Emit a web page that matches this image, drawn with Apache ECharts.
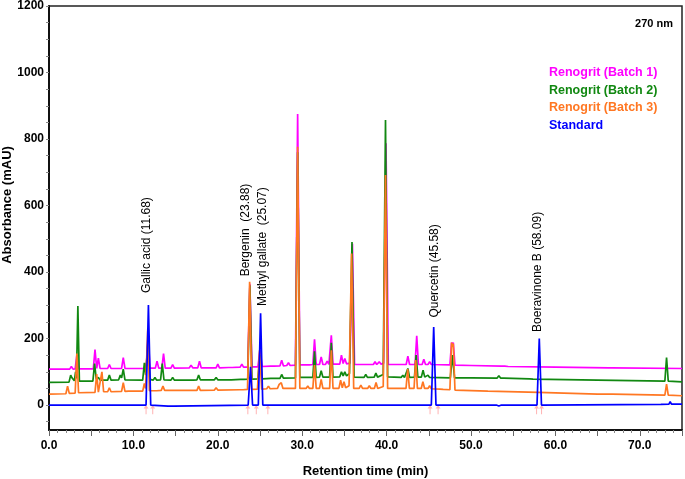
<!DOCTYPE html>
<html>
<head>
<meta charset="utf-8">
<script src="https://cdn.jsdelivr.net/npm/echarts@6/dist/echarts.min.js"></script>
<style>
html,body{margin:0;padding:0;background:#fff;}
#chart{width:685px;height:479px;}
</style>
</head>
<body>
<div id="chart"></div>
<script>
// ---- Data (retention time in min, absorbance in mAU) ----
const seriesNames = ['Renogrit (Batch 1)', 'Renogrit (Batch 2)', 'Renogrit (Batch 3)', 'Standard'];

const batch1 = [
[0,108],[2.45,108],[2.65,116],[2.85,108],[3.1,109],[3.3,150],[3.5,109],
[5.25,109],[5.45,167],[5.65,110],[5.85,141],[6.05,110],
[6.95,110],[7.15,122],[7.35,110],
[8.6,110],[8.8,143],[9.0,110],
[11.25,110],[11.45,125],[11.55,118],[11.75,215],[11.95,111],
[12.6,111],[12.8,132],[13.0,111],
[13.37,111],[13.57,155],[13.77,111],
[14.45,111],[14.65,122],[14.85,111],
[16.63,112],[16.83,120],[17.03,112],
[17.63,112],[17.83,132],[18.03,112],
[19.8,112],[20.0,123],[20.2,112],
[21.3,113],[21.5,117],[21.7,113],
[22.65,114],[22.85,123],[23.05,114],
[23.55,114],[23.8,365],[24.05,115],
[24.75,115],[25.0,165],[25.25,116],
[26.27,117],[26.47,122],[26.67,117],
[27.37,118],[27.57,135],[27.77,118],
[28.17,119],[28.37,127],[28.57,119],
[29.2,120],[29.46,875],[29.72,121],
[30.46,121],[30.66,126],[30.86,121],
[31.26,122],[31.46,198],[31.66,122],
[32.05,122],[32.25,145],[32.45,122],
[32.76,122],[32.96,132],[33.16,122],
[33.25,122],[33.45,210],[33.65,123],
[34.45,123],[34.65,150],[34.85,125],[35.05,140],[35.25,124],
[35.65,126],[35.95,485],[36.2,122],
[36.65,122],[36.85,128],[37.05,122],
[37.33,122],[37.53,128],[37.73,122],
[38.43,122],[38.63,130],[38.83,122],[39.13,130],[39.35,123],
[39.65,126],[39.93,787],[40.2,122],
[41.62,122],[41.82,128],[42.02,122],
[42.32,122],[42.52,147],[42.72,122],
[43.37,122],[43.57,208],[43.77,122],
[44.21,122],[44.41,138],[44.61,122],
[44.9,122],[45.1,130],[45.3,122],
[47.5,121],[47.7,188],[47.8,178],[47.9,188],[48.1,120],
[50,119],[53.6,117],[53.8,122],[54.0,117],[54.2,119],[54.4,116],
[60,114],[66.32,112],[66.52,115],[66.72,112],[75,110]
];

const batch2 = [
[0,68],[2.37,69],[2.57,90],[2.72,82],[2.87,88],[3.0,73],[3.15,100],[3.25,80],[3.42,298],[3.6,72],
[5.2,72],[5.4,125],[5.6,78],[5.85,83],[6.05,75],
[6.95,75],[7.15,90],[7.35,75],
[8.25,76],[8.45,90],[8.6,82],[8.8,108],[9.0,76],
[11.1,75],[11.3,127],[11.45,90],[11.75,200],[11.95,77],
[12.35,75],[12.55,83],[12.75,75],
[13.22,76],[13.42,125],[13.62,76],
[14.45,75],[14.65,83],[14.85,75],
[16.73,75],[16.93,80],[17.13,75],
[17.53,76],[17.73,90],[17.93,76],
[19.6,76],[19.8,83],[20.0,76],
[21.2,76],[21.4,80],[21.6,76],
[22.7,77],[22.9,82],[23.1,77],
[23.55,78],[23.8,360],[24.05,78],
[24.75,79],[25.0,150],[25.25,79],
[26.27,80],[26.47,84],[26.67,80],
[27.37,80],[27.57,92],[27.77,81],
[29.2,82],[29.46,760],[29.72,83],
[30.55,83],[30.75,88],[30.95,83],
[31.26,83],[31.46,162],[31.66,83],
[32.05,84],[32.25,103],[32.45,84],
[33.25,84],[33.45,187],[33.65,84],
[34.45,85],[34.65,100],[34.85,88],[35.05,100],[35.25,88],
[35.6,95],[35.9,490],[36.15,84],
[37.33,83],[37.53,92],[37.73,83],
[38.53,84],[38.73,96],[38.93,84],
[39.6,92],[39.87,857],[40.12,85],
[41.72,83],[41.92,90],[42.12,83],
[42.32,83],[42.52,110],[42.72,83],
[43.3,84],[43.5,150],[43.7,84],
[44.12,84],[44.32,105],[44.52,84],
[44.7,84],[44.9,90],[45.1,83],
[47.55,82],[47.8,150],[48.05,82],
[50,82],[53.1,81],[53.3,88],[53.5,81],[53.7,86],[53.9,81],
[56.95,79],[57.15,84],[57.35,78],
[65,75],[72.97,72],[73.17,143],[73.37,72],[75,70]
];

const batch3 = [
[0,33],[2.0,34],[2.2,57],[2.4,35],[3.1,36],[3.3,155],[3.5,37],
[5.45,38],[5.65,93],[5.85,39],[6.07,39],[6.27,100],[6.47,40],
[6.95,40],[7.15,52],[7.35,40],
[8.6,41],[8.8,67],[9.0,41],
[9.45,42],[9.65,48],[9.85,42],
[11.1,42],[11.3,65],[11.45,50],[11.7,228],[11.9,43],
[12.35,43],[12.55,49],[12.75,43],
[13.3,44],[13.5,57],[13.7,44],
[14.4,44],[14.6,49],[14.8,44],
[16.73,44],[16.93,47],[17.13,44],
[17.53,44],[17.73,57],[17.93,44],
[19.6,45],[19.8,52],[20.0,45],
[22.6,46],[22.8,50],[23.0,46],
[23.52,47],[23.77,371],[24.02,47],
[24.7,48],[24.95,165],[25.2,48],
[25.8,49],[26.0,57],[26.2,49],
[27.07,50],[27.27,62],[27.4,56],[27.52,67],[27.72,50],
[29.2,50],[29.46,777],[29.72,50],
[30.46,50],[30.66,57],[30.86,50],
[31.26,50],[31.46,120],[31.66,50],
[32.05,50],[32.25,77],[32.45,50],
[33.25,50],[33.45,165],[33.65,50],
[34.35,50],[34.55,75],[34.75,52],[34.95,70],[35.15,52],
[35.55,58],[35.85,456],[36.1,50],
[36.75,50],[36.95,60],[37.15,50],
[37.75,50],[37.95,58],[38.15,50],
[38.55,50],[38.75,68],[38.95,50],
[39.6,56],[39.87,692],[40.12,50],
[42.3,50],[42.5,108],[42.7,50],
[43.25,50],[43.45,135],[43.65,50],
[44.1,50],[44.3,70],[44.5,50],
[44.9,50],[45.1,58],[45.3,49],
[46.3,48],[46.5,52],[46.7,47],
[47.5,46],[47.7,188],[47.8,175],[47.9,185],[48.1,45],
[52,42],[58,38],[65,33],[66.32,33],[66.52,35],[66.72,33],
[72.97,30],[73.17,63],[73.37,30],[75,28]
];

const standard = [
[0,0],[3.3,0],[3.38,-5],[3.45,5],[3.55,0],
[6.65,0],[6.85,4],[7.05,0],
[11.5,0],[11.78,301],[12.05,0],
[14.1,-3],[14.8,-3],[14.9,0],
[23.6,0],[23.88,115],[24.12,0],
[24.8,0],[25.07,276],[25.33,0],
[34.9,0],[35.1,4],[35.3,0],[35.5,4],[35.7,0],[35.9,5],[36.1,0],
[45.3,0],[45.58,235],[45.85,0],
[49.4,0],[49.6,5],[49.8,0],
[53.0,0],[53.3,-3],[53.6,0],
[57.82,0],[58.09,200],[58.35,0],
[72.5,2],[73.45,3],[73.6,10],[73.75,3],[75,3]
];

// peak annotations (text centre time, absorbance at start of text)
const annoNames = ['Gallic acid (11.68)', 'Bergenin  (23.88)', 'Methyl gallate  (25.07)', 'Quercetin (45.58)', 'Boeravinone B (58.09)'];
const annoTimes = [11.62, 23.25, 25.34, 45.67, 57.96];
const annoLevels = [337, 387, 298, 263, 220];

// integration markers
const markerTimes = [11.5, 12.29, 23.56, 24.56, 25.93, 45.15, 46.1, 57.77, 58.36];
const markerLevel = -14;

// axis ticks
const xTickLabels = [0, 10, 20, 30, 40, 50, 60, 70];
const yTickLabels = [0, 200, 400, 600, 800, 1000, 1200];
const yTicks = [-50,0,50,100,150,200,250,300,350,400,450,500,550,600,650,700,750,800,850,900,950,1000,1050,1100,1150,1200];

// ---- Chart ----
const colors = ['#ff00ff', '#118811', '#ff7722', '#0000ff'];
const FONT = '"Liberation Sans", Arial, sans-serif';
const chart = echarts.init(document.getElementById('chart'), null, {renderer: 'canvas'});

const traces = [batch1, batch2, batch3, standard].map((d, i) => ({
  name: seriesNames[i],
  type: 'line',
  data: d,
  showSymbol: false,
  symbol: 'none',
  lineStyle: {color: colors[i], width: 1.7},
  itemStyle: {color: colors[i]},
  z: 2 + i,
  animation: false
}));

const option = {
  animation: false,
  backgroundColor: '#fff',
  title: {
    text: '270 nm',
    right: 12, top: 18,
    padding: 0,
    textStyle: {fontFamily: FONT, fontSize: 11, fontWeight: 'bold', color: '#000'}
  },
  legend: {
    orient: 'vertical',
    left: 544, top: 66,
    icon: 'none',
    itemWidth: 0, itemHeight: 12, itemGap: 4.7,
    padding: 0,
    selectedMode: false,
    data: seriesNames.map((n, i) => ({name: n, textStyle: {color: colors[i]}})),
    textStyle: {fontFamily: FONT, fontSize: 12.5, fontWeight: 'bold'}
  },
  grid: {
    left: 49, right: 3, top: 6, bottom: 49,
    containLabel: false,
    outerBoundsMode: 'none',
    show: true, borderColor: '#222', borderWidth: 1.5, backgroundColor: 'transparent'
  },
  xAxis: {
    type: 'value', min: 0, max: 75, interval: 5,
    name: 'Retention time (min)', nameLocation: 'middle', nameGap: 35,
    nameMoveOverlap: false,
    nameTextStyle: {fontFamily: FONT, fontSize: 13, fontWeight: 'bold', color: '#000'},
    axisLine: {show: true, onZero: false, lineStyle: {color: '#111', width: 2}},
    axisTick: {show: true, inside: false, length: 6, lineStyle: {color: '#666', width: 1}},
    minorTick: {show: true, splitNumber: 5, length: 3, lineStyle: {color: '#888', width: 1}},
    axisLabel: {
      customValues: xTickLabels,
      formatter: v => v.toFixed(1),
      margin: 10,
      fontFamily: FONT, fontSize: 12, fontWeight: 'bold', color: '#000'
    },
    splitLine: {show: false}
  },
  yAxis: {
    type: 'value', min: -75, max: 1200, interval: 25,
    name: 'Absorbance (mAU)', nameLocation: 'middle', nameGap: 35,
    nameMoveOverlap: false,
    nameTextStyle: {fontFamily: FONT, fontSize: 13, fontWeight: 'bold', color: '#000', padding: [0, 0, 0, 26]},
    axisLine: {show: true, onZero: false, lineStyle: {color: '#111', width: 2}},
    axisTick: {show: true, inside: false, length: 3, customValues: yTicks, lineStyle: {color: '#888', width: 1}},
    axisLabel: {
      customValues: yTickLabels,
      formatter: v => String(v),
      margin: 5,
      fontFamily: FONT, fontSize: 12, fontWeight: 'bold', color: '#000'
    },
    splitLine: {show: false}
  },
  series: traces.concat([
    {
      name: 'markers',
      type: 'scatter',
      data: markerTimes.map(t => [t, markerLevel]),
      symbol: 'path://M5,0 L10,6 L6,6 L6,16 L4,16 L4,6 L0,6 Z',
      symbolSize: [5, 9],
      itemStyle: {color: '#ffa0a0'},
      z: 1,
      silent: true
    },
    {
      name: 'annotations',
      type: 'scatter',
      data: annoNames.map((n, i) => ({name: n, value: [annoTimes[i], annoLevels[i]]})),
      symbolSize: 1,
      itemStyle: {color: 'rgba(0,0,0,0)'},
      z: 10,
      silent: true,
      label: {
        show: true,
        position: 'inside',
        rotate: 90,
        align: 'left',
        verticalAlign: 'middle',
        formatter: p => p.name,
        fontFamily: FONT, fontSize: 12, color: '#000', opacity: 1
      }
    }
  ])
};
chart.setOption(option);
</script>
</body>
</html>
